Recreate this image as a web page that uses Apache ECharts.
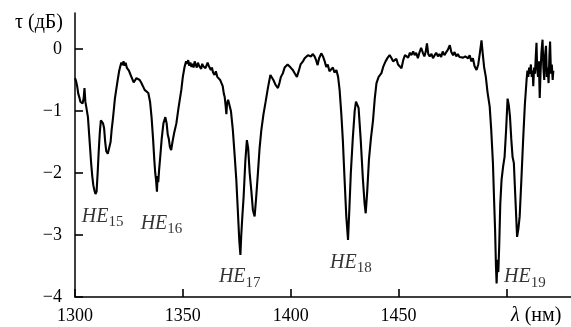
<!DOCTYPE html>
<html>
<head>
<meta charset="utf-8">
<script src="https://cdn.jsdelivr.net/npm/echarts@6/dist/echarts.min.js"></script>
<style>
  html, body { margin: 0; padding: 0; background: #fff; }
  #main { width: 571px; height: 327px; }
</style>
</head>
<body>
<div id="main"></div>
<script>
// wavelength, nm
const lambda = [
  1300, 1300.5, 1301, 1301.5, 1302, 1302.5, 1303, 1303.5, 1304, 1304.4, 1304.8, 1305.2,
  1306, 1306.5, 1307, 1307.5, 1308, 1308.5, 1309, 1309.5, 1310, 1310.5, 1311, 1311.5,
  1312, 1312.4, 1313, 1313.5, 1314, 1314.5, 1315.2, 1316, 1316.5, 1317, 1317.5, 1318,
  1318.5, 1319.1, 1319.8, 1320.5, 1321, 1321.5, 1322, 1322.5, 1323, 1323.5, 1324, 1324.5,
  1325, 1325.8, 1326.5, 1327.2, 1327.8, 1328.5, 1329.3, 1330, 1330.8, 1331.5, 1332.3, 1333,
  1334, 1334.8, 1335.5, 1336.2, 1336.8, 1337.2, 1337.6, 1338, 1338.3, 1338.6, 1339, 1339.5,
  1340.2, 1341, 1341.9, 1342.5, 1343, 1343.5, 1344, 1344.6, 1345.2, 1346, 1347, 1348,
  1349.3, 1350, 1350.8, 1351.5, 1352, 1352.5, 1353, 1353.5, 1354, 1354.5, 1355, 1355.5,
  1356, 1356.5, 1357, 1357.5, 1358, 1358.5, 1359, 1359.5, 1360, 1360.5, 1361, 1361.5,
  1362, 1362.5, 1363, 1363.5, 1364, 1364.7, 1365.3, 1366, 1366.7, 1367.3, 1367.8, 1368.5,
  1369, 1369.4, 1369.8, 1370.2, 1370.5, 1371, 1371.7, 1372.3, 1373.2, 1374, 1374.8, 1375.5,
  1376.2, 1376.7, 1377.1, 1377.6, 1378.2, 1379, 1379.7, 1380.3, 1381, 1381.8, 1382.5, 1383.3,
  1384, 1384.8, 1385.6, 1386.4, 1387.4, 1388.4, 1389.5, 1390.6, 1391.3, 1392, 1393, 1394.1,
  1394.8, 1395.5, 1396.4, 1397.2, 1398, 1398.6, 1399.2, 1400, 1401, 1402, 1402.9, 1403.8,
  1404.6, 1405.7, 1406.5, 1407.3, 1408, 1408.8, 1409.5, 1410.2, 1411.1, 1411.8, 1412.5, 1413.2,
  1414.2, 1415, 1415.8, 1416.5, 1417.2, 1418, 1418.9, 1419.6, 1420.3, 1421.2, 1422, 1422.7,
  1423.5, 1424.2, 1425, 1425.8, 1426.6, 1427.2, 1427.9, 1428.8, 1429.7, 1430.3, 1430.8, 1431.5,
  1432.5, 1433.5, 1434.3, 1434.8, 1435.5, 1436.3, 1437.2, 1438.2, 1439, 1439.8, 1440.8, 1442.1,
  1443, 1444, 1445, 1445.9, 1446.8, 1447.5, 1448.3, 1449, 1449.8, 1450.5, 1451.4, 1452.2,
  1453, 1453.8, 1454.5, 1455.3, 1456, 1456.8, 1457.5, 1458.2, 1459, 1459.8, 1460.5, 1461.4,
  1462, 1462.6, 1463.2, 1463.8, 1464.5, 1465.3, 1466, 1466.8, 1467.5, 1468.3, 1469, 1469.8,
  1470.5, 1471.3, 1472, 1472.8, 1473.8, 1474.5, 1475.3, 1476, 1476.8, 1477.5, 1478.3, 1479,
  1480, 1481, 1482.3, 1483, 1483.8, 1484.5, 1485.3, 1486.2, 1487, 1487.8, 1488.5, 1489,
  1489.7, 1490.5, 1491.3, 1492.3, 1493, 1493.8, 1494.3, 1494.8, 1495.2, 1495.5, 1495.9, 1496.3,
  1496.7, 1497.2, 1497.8, 1498.5, 1499.2, 1499.9, 1500.6, 1501.2, 1501.7, 1502.3, 1502.9, 1503.5,
  1504.2, 1505, 1505.6, 1506.2, 1507, 1507.8, 1508.6, 1509.4, 1509.8, 1510.2, 1510.6, 1511,
  1511.4, 1511.8, 1512.2, 1512.5, 1512.9, 1513.3, 1513.7, 1514, 1514.3, 1514.7, 1515.1, 1515.5,
  1515.9, 1516.3, 1516.8, 1517.2, 1517.6, 1518, 1518.4, 1518.8, 1519.2, 1519.6, 1520, 1520.3,
  1520.7, 1521.1, 1521.5, 1521.8
];

// attenuation, dB
const tau = [
  -0.47, -0.52, -0.6, -0.72, -0.78, -0.85, -0.82, -0.88, -0.8, -0.63, -0.85, -0.93,
  -1.1, -1.35, -1.6, -1.85, -2.05, -2.2, -2.28, -2.34, -2.3, -2.0, -1.65, -1.35,
  -1.15, -1.12, -1.2, -1.28, -1.5, -1.65, -1.69, -1.66, -1.5, -1.3, -1.15, -0.98,
  -0.8, -0.66, -0.5, -0.35, -0.28, -0.22, -0.26, -0.2, -0.27, -0.22, -0.3, -0.27,
  -0.35, -0.42, -0.48, -0.54, -0.53, -0.47, -0.45, -0.5, -0.55, -0.6, -0.66, -0.68,
  -0.71, -0.85, -1.1, -1.45, -1.8, -2.0, -2.12, -2.3, -2.05, -2.15, -1.95, -1.75,
  -1.45, -1.2, -1.1, -1.2, -1.38, -1.45, -1.58, -1.63, -1.5, -1.35, -1.2, -0.95,
  -0.66, -0.45, -0.29, -0.2, -0.24, -0.18, -0.27, -0.22, -0.29, -0.24, -0.3, -0.2,
  -0.26, -0.3, -0.22, -0.27, -0.25, -0.32, -0.24, -0.28, -0.26, -0.31, -0.28, -0.22,
  -0.27, -0.3, -0.34, -0.3, -0.38, -0.42, -0.36, -0.45, -0.42, -0.5, -0.47, -0.6,
  -0.72, -0.77, -0.9, -1.05, -0.88, -0.82, -0.85, -1.0, -1.31, -1.7, -2.11, -2.6,
  -3.1, -3.32, -3.0, -2.7, -2.38, -1.8, -1.47, -1.6, -2.0, -2.3, -2.6, -2.7,
  -2.4, -2.01, -1.6, -1.31, -1.05, -0.85, -0.62, -0.42, -0.44, -0.5, -0.58, -0.63,
  -0.55, -0.45, -0.39, -0.3, -0.33, -0.25, -0.23, -0.3, -0.34, -0.4, -0.45, -0.35,
  -0.25, -0.2, -0.15, -0.12, -0.1, -0.07, -0.12, -0.08, -0.12, -0.18, -0.26, -0.15,
  -0.07, -0.12, -0.2, -0.29, -0.25, -0.36, -0.39, -0.3, -0.38, -0.34, -0.45, -0.66,
  -1.05, -1.47, -2.1, -2.7, -3.08, -2.6, -2.0, -1.45, -1.0, -0.85, -0.82, -0.95,
  -1.47, -2.1, -2.5, -2.65, -2.3, -1.79, -1.45, -1.15, -0.8, -0.55, -0.45, -0.39,
  -0.28, -0.2, -0.14, -0.1, -0.15, -0.2, -0.23, -0.16, -0.25, -0.28, -0.31, -0.18,
  -0.1, -0.07, -0.14, -0.06, -0.1, -0.04, -0.1, -0.06, -0.15, -0.05, 0.02, -0.07,
  -0.12, -0.05, 0.09, -0.08, -0.12, -0.08, -0.15, -0.1, -0.06, -0.12, -0.08, -0.13,
  -0.04, -0.1, -0.06, -0.02, 0.06, -0.05, -0.1, -0.05, -0.12, -0.08, -0.13, -0.1,
  -0.14, -0.12, -0.15, -0.1, -0.2, -0.15, -0.28, -0.34, -0.25, -0.05, 0.14, -0.05,
  -0.29, -0.45, -0.7, -0.93, -1.3, -1.84, -2.4, -2.92, -3.5, -3.78, -3.4, -3.6,
  -3.19, -2.5, -2.11, -1.9, -1.74, -1.31, -0.8, -0.92, -1.09, -1.45, -1.74, -1.84,
  -2.4, -3.03, -2.9, -2.7, -2.1, -1.47, -0.9, -0.5, -0.35, -0.45, -0.3, -0.4,
  -0.25, -0.45, -0.35, -0.6, -0.3, -0.4, -0.1, 0.1, -0.3, -0.45, -0.2, -0.79,
  -0.35, -0.05, 0.15, -0.3, -0.5, -0.1, 0.05, -0.45, -0.3, -0.55, -0.1, 0.12,
  -0.4, -0.25, -0.5, -0.35
];

// mode labels: subscript, position (nm, dB)
const modeIdx = ['15', '16', '17', '18', '19'];
const modeX = [1312.8, 1340.1, 1376.4, 1427.9, 1508.6];
const modeY = [-2.71, -2.82, -3.68, -3.44, -3.68];

// axis ranges: the drawn axes run past the last tick
const xMin = 1300, xMax = 1530, xLastTick = 1500, xStep = 50;
const yMin = -4, yMax = 0.58, yLastTick = 0, yStep = 1;

const serif = '"Liberation Serif", "DejaVu Serif", serif';

const W = 571, H = 327;
const gLeft = 75, gTop = 13, gBottom = 30;
const gW = W - gLeft, gH = H - gTop - gBottom;

const chart = echarts.init(document.getElementById('main'));

const noAxis = { show: false };

chart.setOption({
  animation: false,
  backgroundColor: '#fff',
  grid: [
    // data grid: full-length axis lines
    { left: gLeft, right: 0, top: gTop, bottom: gBottom },
    // tick grid: same scale, ends at the last tick
    {
      left: gLeft,
      right: gW * (xMax - xLastTick) / (xMax - xMin),
      top: gTop + gH * (yMax - yLastTick) / (yMax - yMin),
      bottom: gBottom
    }
  ],
  xAxis: [
    {
      gridIndex: 0, type: 'value', min: xMin, max: xMax,
      axisLine: { show: true, onZero: false, lineStyle: { color: '#000', width: 1.5 } },
      axisTick: noAxis, axisLabel: noAxis, splitLine: noAxis
    },
    {
      gridIndex: 1, type: 'value', min: xMin, max: xLastTick, interval: xStep,
      axisLine: { show: false, onZero: false },
      axisTick: { show: true, inside: true, length: 8, lineStyle: { color: '#000', width: 1.6 } },
      axisLabel: {
        color: '#000', fontFamily: serif, fontSize: 18, margin: 10,
        formatter: v => (v === xLastTick ? '' : String(v))
      },
      splitLine: noAxis
    }
  ],
  yAxis: [
    {
      gridIndex: 0, type: 'value', min: yMin, max: yMax,
      axisLine: { show: true, onZero: false, lineStyle: { color: '#000', width: 1.5 } },
      axisTick: noAxis, axisLabel: noAxis, splitLine: noAxis
    },
    {
      gridIndex: 1, type: 'value', min: yMin, max: yLastTick, interval: yStep,
      axisLine: { show: false, onZero: false },
      axisTick: { show: true, inside: true, length: 8, lineStyle: { color: '#000', width: 1.6 } },
      axisLabel: {
        color: '#000', fontFamily: serif, fontSize: 18, margin: 13,
        formatter: v => String(v).replace('-', '\u2212')
      },
      splitLine: noAxis
    }
  ],
  series: [
    {
      type: 'line',
      xAxisIndex: 0, yAxisIndex: 0,
      data: lambda.map((x, i) => [x, tau[i]]),
      symbol: 'none',
      lineStyle: { color: '#000', width: 2.1 },
      z: 3
    },
    {
      type: 'scatter',
      xAxisIndex: 0, yAxisIndex: 0,
      symbolSize: 0,
      data: modeX.map((x, i) => [x, modeY[i], modeIdx[i]]),
      label: {
        show: true,
        position: 'inside',
        color: '#000',
        textBorderWidth: 0,
        formatter: p => '{he|HE}{sub|' + p.data[2] + '}',
        rich: {
          he: { fontFamily: serif, fontStyle: 'italic', fontSize: 20, color: '#000', verticalAlign: 'bottom' },
          sub: { fontFamily: serif, fontSize: 15, color: '#000', verticalAlign: 'bottom', padding: [0, 0, -3, 0] }
        }
      },
      emphasis: { disabled: true },
      z: 4
    }
  ],
  graphic: [
    {
      type: 'text',
      right: W - 63,
      top: 13,
      style: { text: '\u03c4 (дБ)', font: '20px ' + serif, fill: '#000' }
    },
    {
      type: 'text',
      left: 511,
      top: 306,
      style: {
        text: '{i|\u03bb} (нм)',
        font: '20px ' + serif,
        fill: '#000',
        rich: { i: { fontFamily: serif, fontStyle: 'italic', fontSize: 20 } }
      }
    }
  ]
});
</script>
</body>
</html>
